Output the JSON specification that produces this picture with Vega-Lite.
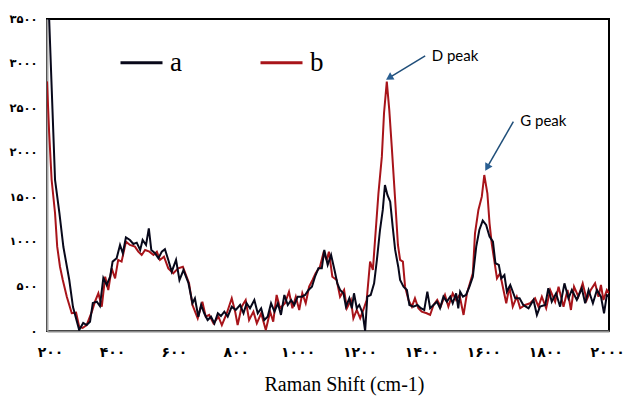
{
  "$schema": "https://vega.github.io/schema/vega-lite/v6.json",
  "width": 562,
  "height": 312,
  "autosize": {"type": "none"},
  "padding": {"left": 47, "top": 19, "right": 18, "bottom": 72},
  "background": "white",
  "config": {
    "view": {"stroke": "#000000", "strokeWidth": 2},
    "legend": {
      "orient": "none",
      "direction": "horizontal",
      "legendX": 72,
      "legendY": 21,
      "symbolType": "stroke",
      "symbolSize": 1764,
      "symbolStrokeWidth": 3,
      "labelFont": "Liberation Serif",
      "labelFontSize": 27,
      "labelColor": "#000000",
      "labelOffset": 6,
      "columnPadding": 72,
      "title": null
    }
  },
  "datasets": {
    "spectra": [
      {"s":"a","x":190,"y":4000},{"s":"a","x":197,"y":3500},{"s":"a","x":216,"y":1694},{"s":"a","x":230,"y":1324},{"s":"a","x":243,"y":942},{"s":"a","x":262,"y":572},{"s":"a","x":274,"y":269},{"s":"a","x":294,"y":11},{"s":"a","x":307,"y":90},{"s":"a","x":318,"y":67},{"s":"a","x":329,"y":104},{"s":"a","x":338,"y":314},{"s":"a","x":351,"y":329},{"s":"a","x":361,"y":280},{"s":"a","x":372,"y":595},{"s":"a","x":383,"y":516},{"s":"a","x":394,"y":609},{"s":"a","x":402,"y":778},{"s":"a","x":415,"y":816},{"s":"a","x":426,"y":965},{"s":"a","x":435,"y":872},{"s":"a","x":445,"y":1051},{"s":"a","x":458,"y":1021},{"s":"a","x":469,"y":976},{"s":"a","x":480,"y":991},{"s":"a","x":491,"y":909},{"s":"a","x":499,"y":1021},{"s":"a","x":510,"y":965},{"s":"a","x":519,"y":1152},{"s":"a","x":527,"y":909},{"s":"a","x":539,"y":872},{"s":"a","x":550,"y":816},{"s":"a","x":561,"y":890},{"s":"a","x":571,"y":917},{"s":"a","x":582,"y":797},{"s":"a","x":593,"y":665},{"s":"a","x":607,"y":797},{"s":"a","x":618,"y":572},{"s":"a","x":631,"y":684},{"s":"a","x":647,"y":539},{"s":"a","x":660,"y":311},{"s":"a","x":668,"y":367},{"s":"a","x":679,"y":160},{"s":"a","x":688,"y":292},{"s":"a","x":698,"y":199},{"s":"a","x":709,"y":123},{"s":"a","x":720,"y":160},{"s":"a","x":731,"y":86},{"s":"a","x":742,"y":199},{"s":"a","x":752,"y":168},{"s":"a","x":763,"y":217},{"s":"a","x":774,"y":160},{"s":"a","x":787,"y":273},{"s":"a","x":800,"y":236},{"s":"a","x":814,"y":292},{"s":"a","x":825,"y":199},{"s":"a","x":835,"y":311},{"s":"a","x":846,"y":255},{"s":"a","x":860,"y":348},{"s":"a","x":871,"y":199},{"s":"a","x":882,"y":255},{"s":"a","x":892,"y":123},{"s":"a","x":903,"y":160},{"s":"a","x":914,"y":311},{"s":"a","x":925,"y":217},{"s":"a","x":936,"y":311},{"s":"a","x":946,"y":180},{"s":"a","x":957,"y":404},{"s":"a","x":968,"y":292},{"s":"a","x":979,"y":348},{"s":"a","x":989,"y":292},{"s":"a","x":1000,"y":385},{"s":"a","x":1013,"y":385},{"s":"a","x":1024,"y":404},{"s":"a","x":1035,"y":460},{"s":"a","x":1046,"y":497},{"s":"a","x":1056,"y":609},{"s":"a","x":1067,"y":703},{"s":"a","x":1078,"y":703},{"s":"a","x":1086,"y":909},{"s":"a","x":1097,"y":741},{"s":"a","x":1108,"y":853},{"s":"a","x":1119,"y":684},{"s":"a","x":1128,"y":535},{"s":"a","x":1137,"y":460},{"s":"a","x":1148,"y":423},{"s":"a","x":1156,"y":273},{"s":"a","x":1167,"y":367},{"s":"a","x":1175,"y":255},{"s":"a","x":1182,"y":423},{"s":"a","x":1191,"y":255},{"s":"a","x":1199,"y":292},{"s":"a","x":1210,"y":199},{"s":"a","x":1218,"y":0},{"s":"a","x":1225,"y":385},{"s":"a","x":1236,"y":404},{"s":"a","x":1247,"y":535},{"s":"a","x":1256,"y":797},{"s":"a","x":1266,"y":1133},{"s":"a","x":1275,"y":1358},{"s":"a","x":1282,"y":1638},{"s":"a","x":1290,"y":1526},{"s":"a","x":1299,"y":1451},{"s":"a","x":1307,"y":1170},{"s":"a","x":1315,"y":909},{"s":"a","x":1325,"y":721},{"s":"a","x":1331,"y":572},{"s":"a","x":1342,"y":497},{"s":"a","x":1353,"y":460},{"s":"a","x":1361,"y":292},{"s":"a","x":1374,"y":273},{"s":"a","x":1387,"y":292},{"s":"a","x":1398,"y":255},{"s":"a","x":1409,"y":236},{"s":"a","x":1419,"y":441},{"s":"a","x":1428,"y":255},{"s":"a","x":1439,"y":292},{"s":"a","x":1450,"y":329},{"s":"a","x":1460,"y":255},{"s":"a","x":1471,"y":385},{"s":"a","x":1482,"y":329},{"s":"a","x":1493,"y":385},{"s":"a","x":1501,"y":311},{"s":"a","x":1512,"y":423},{"s":"a","x":1519,"y":255},{"s":"a","x":1525,"y":441},{"s":"a","x":1534,"y":385},{"s":"a","x":1544,"y":404},{"s":"a","x":1555,"y":497},{"s":"a","x":1566,"y":609},{"s":"a","x":1577,"y":946},{"s":"a","x":1587,"y":1133},{"s":"a","x":1598,"y":1238},{"s":"a","x":1609,"y":1189},{"s":"a","x":1620,"y":1058},{"s":"a","x":1631,"y":1002},{"s":"a","x":1639,"y":760},{"s":"a","x":1650,"y":741},{"s":"a","x":1658,"y":591},{"s":"a","x":1668,"y":628},{"s":"a","x":1676,"y":441},{"s":"a","x":1687,"y":516},{"s":"a","x":1703,"y":367},{"s":"a","x":1717,"y":367},{"s":"a","x":1729,"y":292},{"s":"a","x":1746,"y":255},{"s":"a","x":1762,"y":348},{"s":"a","x":1773,"y":180},{"s":"a","x":1783,"y":273},{"s":"a","x":1800,"y":292},{"s":"a","x":1810,"y":479},{"s":"a","x":1821,"y":329},{"s":"a","x":1835,"y":423},{"s":"a","x":1848,"y":273},{"s":"a","x":1862,"y":535},{"s":"a","x":1875,"y":367},{"s":"a","x":1886,"y":460},{"s":"a","x":1902,"y":348},{"s":"a","x":1918,"y":479},{"s":"a","x":1929,"y":311},{"s":"a","x":1940,"y":460},{"s":"a","x":1954,"y":311},{"s":"a","x":1967,"y":460},{"s":"a","x":1980,"y":385},{"s":"a","x":1990,"y":199},{"s":"a","x":1999,"y":404},{"s":"a","x":2006,"y":385},
      {"s":"b","x":190,"y":2800},{"s":"b","x":197,"y":2222},{"s":"b","x":205,"y":1694},{"s":"b","x":216,"y":1321},{"s":"b","x":223,"y":946},{"s":"b","x":232,"y":721},{"s":"b","x":241,"y":572},{"s":"b","x":254,"y":385},{"s":"b","x":270,"y":199},{"s":"b","x":284,"y":205},{"s":"b","x":294,"y":48},{"s":"b","x":305,"y":34},{"s":"b","x":318,"y":67},{"s":"b","x":335,"y":217},{"s":"b","x":345,"y":329},{"s":"b","x":356,"y":423},{"s":"b","x":367,"y":273},{"s":"b","x":378,"y":609},{"s":"b","x":388,"y":460},{"s":"b","x":399,"y":703},{"s":"b","x":410,"y":591},{"s":"b","x":420,"y":797},{"s":"b","x":431,"y":778},{"s":"b","x":445,"y":1002},{"s":"b","x":458,"y":965},{"s":"b","x":474,"y":946},{"s":"b","x":485,"y":890},{"s":"b","x":496,"y":853},{"s":"b","x":507,"y":909},{"s":"b","x":521,"y":890},{"s":"b","x":534,"y":853},{"s":"b","x":545,"y":890},{"s":"b","x":555,"y":797},{"s":"b","x":568,"y":834},{"s":"b","x":582,"y":703},{"s":"b","x":598,"y":647},{"s":"b","x":614,"y":703},{"s":"b","x":629,"y":721},{"s":"b","x":649,"y":535},{"s":"b","x":660,"y":292},{"s":"b","x":677,"y":142},{"s":"b","x":692,"y":329},{"s":"b","x":703,"y":160},{"s":"b","x":714,"y":180},{"s":"b","x":728,"y":86},{"s":"b","x":744,"y":160},{"s":"b","x":755,"y":67},{"s":"b","x":771,"y":199},{"s":"b","x":787,"y":367},{"s":"b","x":798,"y":217},{"s":"b","x":806,"y":67},{"s":"b","x":819,"y":273},{"s":"b","x":832,"y":348},{"s":"b","x":843,"y":123},{"s":"b","x":857,"y":217},{"s":"b","x":868,"y":86},{"s":"b","x":882,"y":199},{"s":"b","x":897,"y":11},{"s":"b","x":911,"y":217},{"s":"b","x":921,"y":104},{"s":"b","x":932,"y":404},{"s":"b","x":943,"y":255},{"s":"b","x":959,"y":311},{"s":"b","x":972,"y":441},{"s":"b","x":983,"y":255},{"s":"b","x":994,"y":385},{"s":"b","x":1005,"y":236},{"s":"b","x":1015,"y":423},{"s":"b","x":1026,"y":311},{"s":"b","x":1037,"y":497},{"s":"b","x":1048,"y":572},{"s":"b","x":1058,"y":647},{"s":"b","x":1072,"y":721},{"s":"b","x":1083,"y":872},{"s":"b","x":1094,"y":797},{"s":"b","x":1101,"y":890},{"s":"b","x":1112,"y":609},{"s":"b","x":1126,"y":572},{"s":"b","x":1137,"y":385},{"s":"b","x":1150,"y":460},{"s":"b","x":1159,"y":255},{"s":"b","x":1172,"y":348},{"s":"b","x":1180,"y":142},{"s":"b","x":1191,"y":236},{"s":"b","x":1202,"y":142},{"s":"b","x":1212,"y":236},{"s":"b","x":1223,"y":348},{"s":"b","x":1234,"y":778},{"s":"b","x":1243,"y":684},{"s":"b","x":1250,"y":1021},{"s":"b","x":1261,"y":1545},{"s":"b","x":1272,"y":1956},{"s":"b","x":1279,"y":2443},{"s":"b","x":1288,"y":2797},{"s":"b","x":1296,"y":2480},{"s":"b","x":1304,"y":2068},{"s":"b","x":1315,"y":1470},{"s":"b","x":1324,"y":965},{"s":"b","x":1331,"y":797},{"s":"b","x":1340,"y":778},{"s":"b","x":1347,"y":497},{"s":"b","x":1358,"y":348},{"s":"b","x":1369,"y":273},{"s":"b","x":1379,"y":367},{"s":"b","x":1390,"y":255},{"s":"b","x":1401,"y":217},{"s":"b","x":1417,"y":199},{"s":"b","x":1428,"y":180},{"s":"b","x":1439,"y":292},{"s":"b","x":1451,"y":348},{"s":"b","x":1462,"y":273},{"s":"b","x":1476,"y":404},{"s":"b","x":1487,"y":273},{"s":"b","x":1501,"y":423},{"s":"b","x":1512,"y":348},{"s":"b","x":1523,"y":404},{"s":"b","x":1536,"y":180},{"s":"b","x":1547,"y":423},{"s":"b","x":1557,"y":540},{"s":"b","x":1566,"y":647},{"s":"b","x":1573,"y":1096},{"s":"b","x":1584,"y":1358},{"s":"b","x":1595,"y":1507},{"s":"b","x":1603,"y":1750},{"s":"b","x":1613,"y":1545},{"s":"b","x":1620,"y":1208},{"s":"b","x":1627,"y":984},{"s":"b","x":1635,"y":797},{"s":"b","x":1644,"y":591},{"s":"b","x":1654,"y":647},{"s":"b","x":1665,"y":460},{"s":"b","x":1674,"y":311},{"s":"b","x":1684,"y":497},{"s":"b","x":1695,"y":273},{"s":"b","x":1708,"y":385},{"s":"b","x":1719,"y":255},{"s":"b","x":1735,"y":292},{"s":"b","x":1751,"y":311},{"s":"b","x":1767,"y":367},{"s":"b","x":1778,"y":273},{"s":"b","x":1789,"y":385},{"s":"b","x":1803,"y":255},{"s":"b","x":1816,"y":460},{"s":"b","x":1832,"y":329},{"s":"b","x":1843,"y":497},{"s":"b","x":1859,"y":273},{"s":"b","x":1872,"y":460},{"s":"b","x":1883,"y":236},{"s":"b","x":1893,"y":497},{"s":"b","x":1907,"y":385},{"s":"b","x":1921,"y":535},{"s":"b","x":1934,"y":348},{"s":"b","x":1947,"y":460},{"s":"b","x":1961,"y":535},{"s":"b","x":1972,"y":385},{"s":"b","x":1980,"y":516},{"s":"b","x":1988,"y":348},{"s":"b","x":1999,"y":460},{"s":"b","x":2006,"y":423}
    ],
    "arrows": [
      {"label":"D peak","x1":1412,"y1":3086,"hx":1299,"hy":2848,"tx":1433,"ty":3086},
      {"label":"G peak","x1":1697,"y1":2348,"hx":1614,"hy":1846,"tx":1719,"ty":2356}
    ]
  },
  "layer": [
    {
      "data": {"name": "spectra"},
      "transform": [{"filter": "datum.s === 'b'"}],
      "mark": {"type": "line", "strokeWidth": 2, "clip": true},
      "encoding": {
        "x": {
          "field": "x", "type": "quantitative",
          "scale": {"domain": [190, 2006], "nice": false, "zero": false},
          "axis": {
            "title": "Raman Shift (cm-1)",
            "values": [200, 400, 600, 800, 1000, 1200, 1400, 1600, 1800, 2000],
            "ticks": false, "grid": false,
            "domainColor": "#8c8c8c", "domainWidth": 2,
            "labelFont": "DejaVu Sans", "labelFontWeight": "bold", "labelFontSize": 14,
            "labelColor": "#000000", "labelPadding": 14, "labelFlush": false, "labelOverlap": false,
            "labelExpr": "replace(replace(replace(replace(replace(replace(replace(replace(replace(replace(format(datum.value,'d'),regexp('0','g'),'۰'),regexp('1','g'),'۱'),regexp('2','g'),'۲'),regexp('3','g'),'۳'),regexp('4','g'),'۴'),regexp('5','g'),'۵'),regexp('6','g'),'۶'),regexp('7','g'),'۷'),regexp('8','g'),'۸'),regexp('9','g'),'۹')",
            "titleFont": "Liberation Serif", "titleFontSize": 20, "titleFontWeight": "normal",
            "titleColor": "#000000", "titleX": 297, "titleY": 43
          }
        },
        "y": {
          "field": "y", "type": "quantitative",
          "scale": {"domain": [0, 3500], "nice": false},
          "axis": {
            "title": null,
            "values": [0, 500, 1000, 1500, 2000, 2500, 3000, 3500],
            "ticks": false, "grid": false,
            "domainColor": "#a6a6a6", "domainWidth": 2,
            "labelFont": "DejaVu Sans", "labelFontWeight": "bold", "labelFontSize": 11.5,
            "labelColor": "#000000", "labelPadding": 10, "labelFlush": false, "labelOverlap": false,
            "labelExpr": "replace(replace(replace(replace(replace(replace(replace(replace(replace(replace(format(datum.value,'d'),regexp('0','g'),'۰'),regexp('1','g'),'۱'),regexp('2','g'),'۲'),regexp('3','g'),'۳'),regexp('4','g'),'۴'),regexp('5','g'),'۵'),regexp('6','g'),'۶'),regexp('7','g'),'۷'),regexp('8','g'),'۸'),regexp('9','g'),'۹')"
          }
        },
        "color": {
          "field": "s", "type": "nominal",
          "scale": {"domain": ["a", "b"], "range": ["#08081a", "#a8141a"]}
        }
      }
    },
    {
      "data": {"name": "spectra"},
      "transform": [{"filter": "datum.s === 'a'"}],
      "mark": {"type": "line", "strokeWidth": 2, "clip": true},
      "encoding": {
        "x": {"field": "x", "type": "quantitative"},
        "y": {"field": "y", "type": "quantitative"},
        "color": {"field": "s", "type": "nominal"}
      }
    },
    {
      "data": {"name": "arrows"},
      "mark": {"type": "rule", "color": "#1f4e79", "strokeWidth": 1.5},
      "encoding": {
        "x": {"field": "x1", "type": "quantitative"},
        "y": {"field": "y1", "type": "quantitative"},
        "x2": {"field": "hx"},
        "y2": {"field": "hy"}
      }
    },
    {
      "data": {"name": "arrows"},
      "transform": [{"filter": "datum.label === 'D peak'"}],
      "mark": {"type": "point", "shape": "triangle", "filled": true, "opacity": 1, "color": "#2a5f92", "size": 70, "angle": 238.7},
      "encoding": {
        "x": {"field": "hx", "type": "quantitative"},
        "y": {"field": "hy", "type": "quantitative"}
      }
    },
    {
      "data": {"name": "arrows"},
      "transform": [{"filter": "datum.label === 'G peak'"}],
      "mark": {"type": "point", "shape": "triangle", "filled": true, "opacity": 1, "color": "#2a5f92", "size": 70, "angle": 209.7},
      "encoding": {
        "x": {"field": "hx", "type": "quantitative"},
        "y": {"field": "hy", "type": "quantitative"}
      }
    },
    {
      "data": {"name": "arrows"},
      "mark": {"type": "text", "align": "left", "baseline": "middle", "font": "Lato", "fontSize": 15, "color": "#000000"},
      "encoding": {
        "x": {"field": "tx", "type": "quantitative"},
        "y": {"field": "ty", "type": "quantitative"},
        "text": {"field": "label"}
      }
    }
  ]
}
